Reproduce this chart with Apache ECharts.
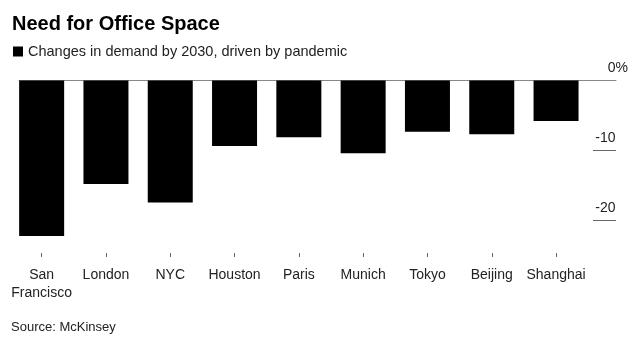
<!DOCTYPE html>
<html>
<head>
<meta charset="utf-8">
<style>html,body{margin:0;padding:0;background:#fff;}#c{width:644px;height:347px;}</style>
<script src="https://cdn.jsdelivr.net/npm/echarts@6/dist/echarts.min.js"></script>
</head>
<body>
<div id="c"></div>
<script>
var categories = ['San\nFrancisco', 'London', 'NYC', 'Houston', 'Paris', 'Munich', 'Tokyo', 'Beijing', 'Shanghai'];
var demandChange = [-22.3, -14.85, -17.5, -9.4, -8.15, -10.45, -7.35, -7.7, -5.8];
var yTickValues = [-10, -20];
var yLabelValues = [0, -10, -20];
var seriesName = 'Changes in demand by 2030, driven by pandemic';

var FONT = '"Liberation Sans", Arial, sans-serif';
var chart = echarts.init(document.getElementById('c'), null, {renderer: 'canvas'});
var yMin = -24.75, yMax = 0;
chart.setOption({
  animation: false,
  backgroundColor: '#fff',
  title: [
    {text: 'Need for Office Space', left: 12, top: 14, padding: 0,
     textStyle: {fontFamily: FONT, fontSize: 20, fontWeight: 'bold', color: '#000'}},
    {text: 'Source: McKinsey', left: 11, top: 321, padding: 0,
     textStyle: {fontFamily: FONT, fontSize: 13, fontWeight: 'normal', color: '#222'}}
  ],
  legend: {
    left: 13, top: 44, itemWidth: 10, itemHeight: 10, itemGap: 10, padding: 0,
    icon: 'rect',
    textStyle: {fontFamily: FONT, fontSize: 14.5, color: '#222', padding: [0,0,0,0]},
    data: [seriesName]
  },
  grid: [
    {left: 9.5, right: 55.8, top: 80.5, bottom: 94, outerBoundsMode: 'none'},
    {left: 19, right: 28, top: 80.5, bottom: 94, outerBoundsMode: 'none'}
  ],
  xAxis: [
    {type: 'category', gridIndex: 0, data: categories, position: 'bottom',
     axisLine: {show: false, onZero: false},
     axisTick: {show: true, alignWithLabel: true, length: 4, lineStyle: {color: '#666'}},
     axisLabel: {fontFamily: FONT, fontSize: 14, color: '#222', margin: 13, lineHeight: 18, interval: 0}},
    {type: 'category', gridIndex: 1, data: [''], position: 'top',
     axisLine: {show: true, onZero: false, lineStyle: {color: '#888', width: 1}},
     axisTick: {show: false}, axisLabel: {show: false}}
  ],
  yAxis: [
    {type: 'value', gridIndex: 0, min: yMin, max: yMax, show: false},
    {type: 'value', gridIndex: 1, min: yMin, max: yMax, position: 'right',
     splitLine: {show: false},
     axisLine: {show: false},
     axisTick: {show: true, inside: true, length: 23, customValues: yTickValues,
                lineStyle: {color: '#666', width: 1}},
     axisLabel: {show: true, inside: false, align: 'right', margin: 12,
                 verticalAlign: 'bottom', padding: [0, 0, 5, 0],
                 customValues: yLabelValues,
                 fontFamily: FONT, fontSize: 14, color: '#222',
                 formatter: function (v) { return v === 0 ? '0%' : (v + '{h|%}'); },
                 rich: {h: {color: 'rgba(0,0,0,0)', fontFamily: FONT, fontSize: 14}}}}
  ],
  series: [
    {name: seriesName, type: 'bar', xAxisIndex: 0, yAxisIndex: 0,
     data: demandChange, barWidth: 45,
     itemStyle: {color: '#000'}}
  ]
});
</script>
</body>
</html>
